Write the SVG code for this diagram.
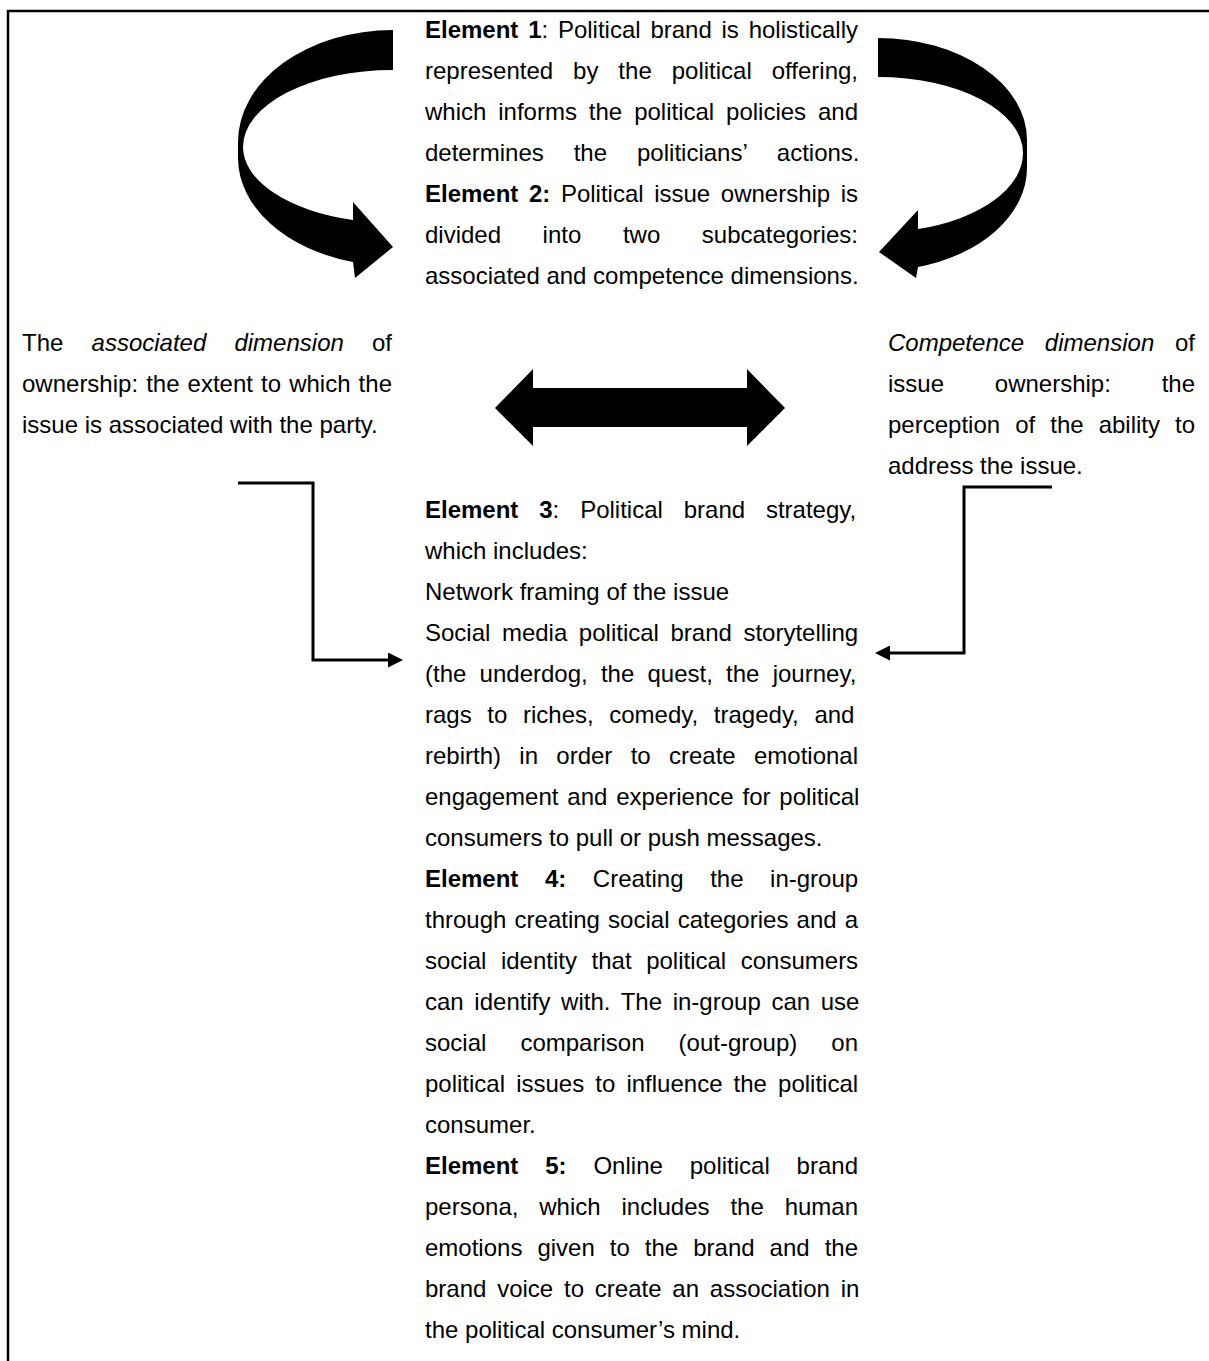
<svg xmlns="http://www.w3.org/2000/svg" width="1209" height="1361" viewBox="0 0 1209 1361">
<style>
text{font-family:"Liberation Sans",Arial,sans-serif;font-size:24px;fill:#000}
.b{font-weight:bold}
.i{font-style:italic}
.elbow{fill:none;stroke:#000;stroke-width:3;marker-end:url(#ah)}
.blk{fill:#000;stroke:none}
</style>
<defs>
<marker id="ah" viewBox="0 0 10 10" refX="5" refY="5" markerWidth="5" markerHeight="5" orient="auto" markerUnits="strokeWidth">
<path d="M0,0 L10,5 L0,10 z" fill="#000"/>
</marker>
</defs>
<rect width="1209" height="1361" fill="#fff"/>
<g id="frame" fill="none" stroke="#000" stroke-width="2.5">
<path d="M8,1361 V11 H1209"/>
</g>
<g id="connectors">
<path class="blk" d="M393,30 A155,112 0 0 0 238,142 L238,158 A155,108 0 0 0 353,262 L355,278 L393,247 L353,202 L353,220 A150,76 0 0 1 243,147 A150,77 0 0 1 393,70 Z"/>
<path class="blk" d="M878,38 A149,102 0 0 1 1027,140 L1027,168 A149,103 0 0 1 918,267 L916,278 L879,252 L918,210 L918,229 A145,79 0 0 0 1023,153 A145,76 0 0 0 878,77 Z"/>
<path class="blk" d="M495,408 L533,369 L533,388 L747,388 L747,369 L785,408 L747,446 L747,427 L533,427 L533,446 Z"/>
<path class="elbow" d="M238,483 H313 V660 H395.5"/>
<path class="elbow" d="M1052,487 H964 V653 H882.5"/>
</g>
<g id="element12">
<text x="425" y="38" word-spacing="3.1"><tspan class="b">Element 1</tspan>: Political brand is holistically</text>
<text x="425" y="79" word-spacing="13.3">represented by the political offering,</text>
<text x="425" y="120" word-spacing="5.24">which informs the political policies and</text>
<text x="425" y="161" word-spacing="23.3">determines the politicians’ actions.</text>
<text x="425" y="202" word-spacing="3.92"><tspan class="b">Element 2:</tspan> Political issue ownership is</text>
<text x="425" y="243" word-spacing="34.9">divided into two subcategories:</text>
<text x="425" y="284">associated and competence dimensions.</text>
</g>
<g id="associated">
<text x="22" y="351" word-spacing="21.5">The <tspan class="i">associated dimension</tspan> of</text>
<text x="22" y="392" word-spacing="1.42">ownership: the extent to which the</text>
<text x="22" y="433">issue is associated with the party.</text>
</g>
<g id="competence">
<text x="888" y="351" word-spacing="14.1"><tspan class="i">Competence dimension</tspan> of</text>
<text x="888" y="392" word-spacing="44.1">issue ownership: the</text>
<text x="888" y="433" word-spacing="8.4">perception of the ability to</text>
<text x="888" y="474">address the issue.</text>
</g>
<g id="element345">
<text x="425" y="518" word-spacing="14.2"><tspan class="b">Element 3</tspan>: Political brand strategy,</text>
<text x="425" y="559">which includes:</text>
<text x="425" y="600">Network framing of the issue</text>
<text x="425" y="641" word-spacing="4.9">Social media political brand storytelling</text>
<text x="425" y="682" word-spacing="6.56">(the underdog, the quest, the journey,</text>
<text x="425" y="723" word-spacing="8.96">rags to riches, comedy, tragedy, and</text>
<text x="425" y="764" word-spacing="11.64">rebirth) in order to create emotional</text>
<text x="425" y="805" word-spacing="2.2">engagement and experience for political</text>
<text x="425" y="846">consumers to pull or push messages.</text>
<text x="425" y="887" word-spacing="19.9"><tspan class="b">Element 4:</tspan> Creating the in-group</text>
<text x="425" y="928" word-spacing="1.5">through creating social categories and a</text>
<text x="425" y="969" word-spacing="7.9">social identity that political consumers</text>
<text x="425" y="1010" word-spacing="4.0">can identify with. The in-group can use</text>
<text x="425" y="1051" word-spacing="27.4">social comparison (out-group) on</text>
<text x="425" y="1092" word-spacing="4.44">political issues to influence the political</text>
<text x="425" y="1133">consumer.</text>
<text x="425" y="1174" word-spacing="20.2"><tspan class="b">Element 5:</tspan> Online political brand</text>
<text x="425" y="1215" word-spacing="14.2">persona, which includes the human</text>
<text x="425" y="1256" word-spacing="8.35">emotions given to the brand and the</text>
<text x="425" y="1297" word-spacing="4.13">brand voice to create an association in</text>
<text x="425" y="1338">the political consumer’s mind.</text>
</g>
</svg>
